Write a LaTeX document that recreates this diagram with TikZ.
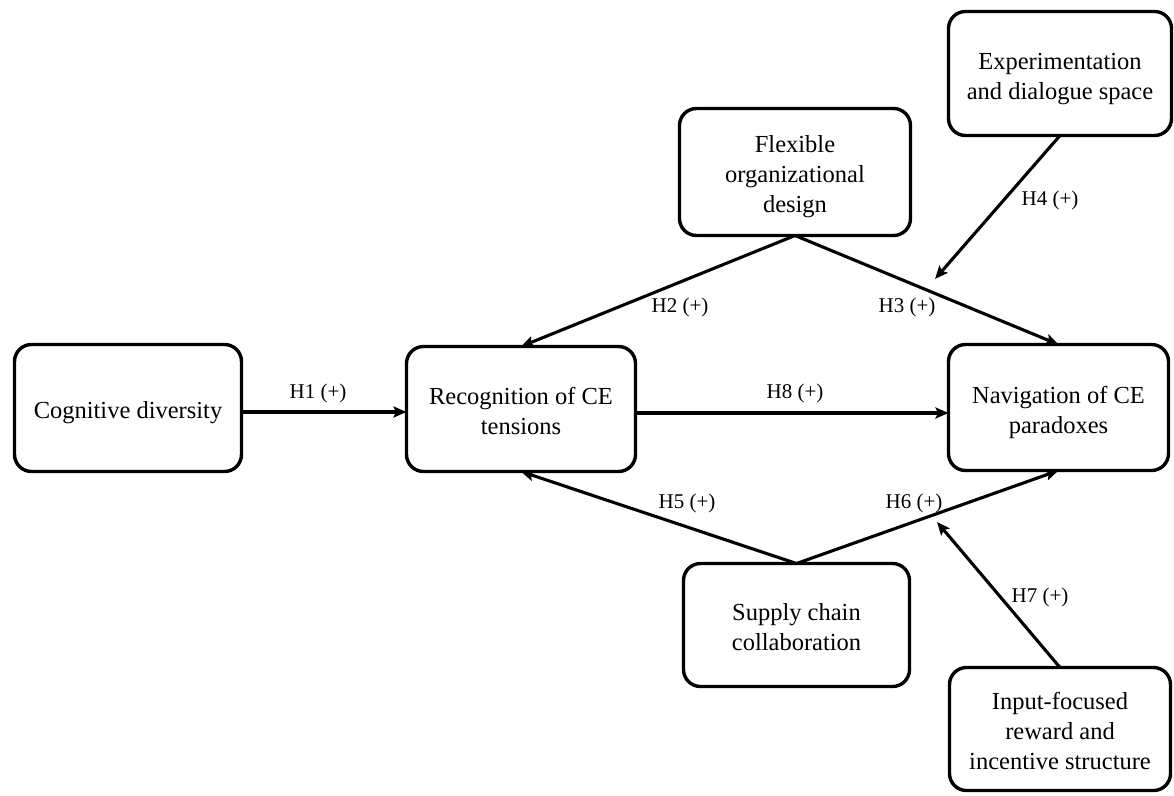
\documentclass[tikz,border=0pt]{standalone}
\usepackage{fontspec}
\setmainfont{Liberation Serif}
\usetikzlibrary{arrows.meta}
\newcommand\bxt[1]{\raisebox{-4.5pt}[\height][\depth]{\begin{tabular}{@{}c@{}}#1\end{tabular}}}
\begin{document}
\begin{tikzpicture}[x=1pt,y=-1pt,
  box/.style={draw=black, line width=3.4pt, rounded corners=17pt, align=center,
    font=\fontsize{24.5}{30}\selectfont, inner sep=0pt, outer sep=0pt},
  lab/.style={font=\fontsize{21}{24}\selectfont, inner sep=0pt},
  arr/.style={line width=3.1pt, -{Stealth[length=13pt,width=11pt,inset=2.5pt]}}]
\useasboundingbox (0,0) rectangle (1174,795);
\node[box, minimum width=227pt, minimum height=127pt] (cog) at (128,408) {\bxt{Cognitive diversity}};
\node[box, minimum width=229pt, minimum height=125pt] (rec) at (521,409) {\bxt{Recognition of CE\\tensions}};
\node[box, minimum width=220pt, minimum height=126pt] (nav) at (1058.5,407.5) {\bxt{Navigation of CE\\paradoxes}};
\node[box, minimum width=231pt, minimum height=127pt] (flex) at (795,172) {\bxt{Flexible\\organizational\\design}};
\node[box, minimum width=223pt, minimum height=124pt] (exp) at (1060,73.5) {\bxt{Experimentation\\and dialogue space}};
\node[box, minimum width=226pt, minimum height=123pt] (sup) at (796.5,625) {\bxt{Supply chain\\collaboration}};
\node[box, minimum width=221pt, minimum height=123pt] (inp) at (1060,729) {\bxt{Input-focused\\reward and\\incentive structure}};
\coordinate (t4) at (935,279);
\coordinate (t7) at (937,522);
\draw[arr] (cog.east |- 0,412) -- (rec.west |- 0,412);
\draw[arr] (rec.east |- 0,413) -- (nav.west |- 0,413);
\draw[arr] (flex.south) -- (rec.north);
\draw[arr] (flex.south) -- (nav.north);
\draw[arr] (exp.south) -- (t4);
\draw[arr] (sup.north) -- (rec.south);
\draw[arr] (sup.north) -- (nav.south);
\draw[arr] (inp.north) -- (t7);
\node[lab] (l1) at (318,393) {H1 (+)};
\node[lab] (l2) at (680,307) {H2 (+)};
\node[lab] (l3) at (907,307) {H3 (+)};
\node[lab] (l4) at (1050,200) {H4 (+)};
\node[lab] (l5) at (687,503) {H5 (+)};
\node[lab] (l6) at (914,503) {H6 (+)};
\node[lab] (l7) at (1040,597) {H7 (+)};
\node[lab] (l8) at (795,393) {H8 (+)};
\end{tikzpicture}
\end{document}
